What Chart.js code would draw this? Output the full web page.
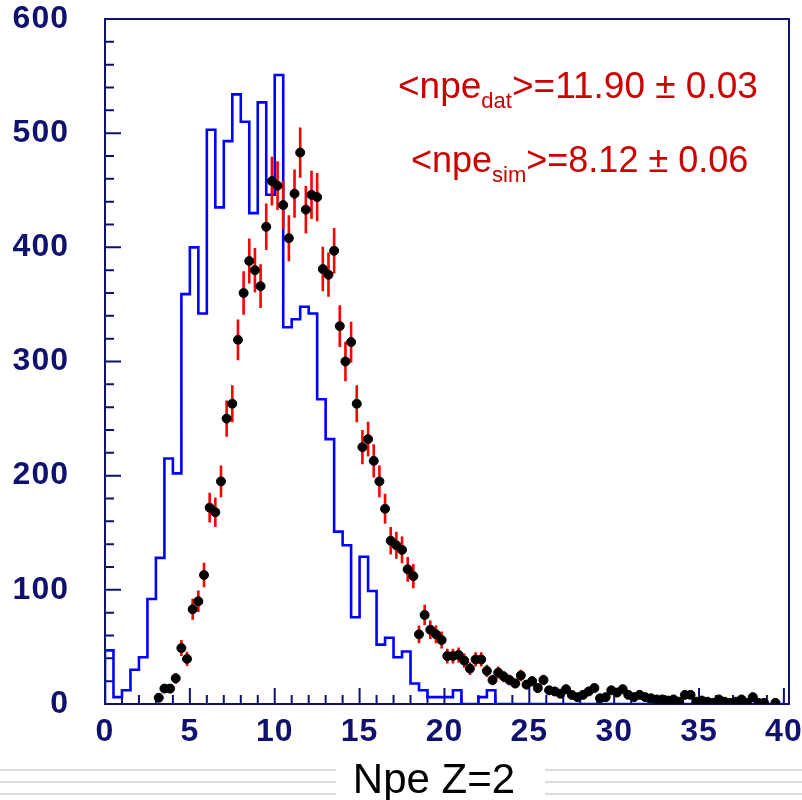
<!DOCTYPE html>
<html>
<head>
<title>Npe Z=2</title>
<script src="https://cdn.jsdelivr.net/npm/chart.js"></script>
<style>
html, body { margin: 0; background: #ffffff; }
</style>
</head>
<body>
<canvas id="npeChart" width="802" height="800"></canvas>
<script>
// measured data: counts in bins of 1/3 npe, from 0 to 40
const dataBinWidth = 1 / 3;
const dataCounts = [
	0, 0, 0, 0, 0, 0, 0, 0, 0, 5.5,
	13.5, 13.5, 22.5, 49, 39.5, 83, 90, 113, 172, 168,
	195, 250, 263, 319, 360, 388, 380, 366, 418, 458,
	454, 437, 408, 447, 483, 433, 446, 444, 381, 376,
	397, 331, 300, 317, 263, 225, 232, 213, 195, 171,
	143, 139, 135, 118, 112, 61, 78, 65, 61, 56,
	42, 42, 43, 38, 31, 39, 39, 29, 21, 27.5,
	24, 21, 18, 25, 17, 20, 14, 21, 12, 11,
	9, 13, 8, 6, 8, 11, 14, 5, 6, 12,
	10, 13, 8, 6, 8, 6, 5, 4, 4, 3,
	4, 2, 8, 8, 2, 3, 2, 1, 4, 2,
	1, 2, 4, 1, 6, 1, 1, 0, 1, 0
];

// simulation: bins of 0.5 npe, from 0 to 40
const simBinWidth = 0.5;
const simCounts = [
	47, 6, 12, 30, 41, 92, 128, 215, 202, 359,
	400, 342, 503, 435, 493, 534, 510, 430, 527, 446,
	551, 330, 337, 348, 342, 267, 232, 151, 139, 76,
	129, 99, 52, 58, 41, 46, 18, 12, 6, 6,
	6, 12, 0, 0, 6, 12, 0, 0, 0, 0,
	0, 0, 0, 0, 0, 0, 0, 0, 0, 0,
	0, 0, 0, 0, 0, 0, 0, 0, 0, 0,
	0, 0, 0, 0, 0, 0, 0, 0, 0, 0
];

const xMin = 0, xMax = 40.3;
const yMin = 0, yMax = 600;
const xLabelStep = 5, xMinorStep = 1;
const yLabelStep = 100, yMinorStep = 20;

const xTitle = 'Npe Z=2';
const meanDat = { sub: 'dat', value: '=11.90 ± 0.03' };
const meanSim = { sub: 'sim', value: '=8.12 ± 0.06' };

const axisColor = '#10106e';
const textRed = '#cc0000';
const sansFont = '"Liberation Sans", Arial, sans-serif';

// points at bin centres, error = sqrt(N)
const dataPoints = dataCounts.map((c, i) => ({
	x: (i + 0.5) * dataBinWidth,
	y: c > 0 ? c : null,
	err: Math.sqrt(c)
}));

// step outline for the simulated histogram
const simPoints = [{ x: 0, y: 0 }];
simCounts.forEach((c, i) => simPoints.push({ x: i * simBinWidth, y: c }));
simPoints.push({ x: simCounts.length * simBinWidth, y: simCounts[simCounts.length - 1] });

// frame with inward ticks, drawn under the datasets
const framePlugin = {
	id: 'frame',
	beforeDatasetsDraw(chart) {
		const { ctx, chartArea: a, scales: { x, y } } = chart;
		ctx.save();
		ctx.strokeStyle = axisColor;
		ctx.lineWidth = 2;
		ctx.strokeRect(a.left, a.top, a.right - a.left, a.bottom - a.top);
		ctx.beginPath();
		for (let v = 0; v <= 40; v += xMinorStep) {
			const px = x.getPixelForValue(v);
			const len = v % xLabelStep === 0 ? 16 : 9;
			ctx.moveTo(px, a.bottom);
			ctx.lineTo(px, a.bottom - len);
		}
		for (let v = yMin; v <= yMax; v += yMinorStep) {
			const py = y.getPixelForValue(v);
			const len = v % yLabelStep === 0 ? 16 : 9;
			ctx.moveTo(a.left, py);
			ctx.lineTo(a.left + len, py);
		}
		ctx.stroke();
		ctx.restore();
	}
};

// red vertical error bars under the black markers
const errorBarPlugin = {
	id: 'errorBars',
	beforeDatasetDraw(chart, args) {
		if (args.index !== 0) return;
		const { ctx, chartArea: a, scales: { x, y } } = chart;
		ctx.save();
		ctx.beginPath();
		ctx.rect(a.left, a.top, a.right - a.left, a.bottom - a.top);
		ctx.clip();
		ctx.strokeStyle = '#ff0000';
		ctx.lineWidth = 2.6;
		ctx.beginPath();
		dataPoints.forEach(p => {
			if (p.y === null) return;
			const px = x.getPixelForValue(p.x);
			ctx.moveTo(px, y.getPixelForValue(p.y - p.err));
			ctx.lineTo(px, y.getPixelForValue(p.y + p.err));
		});
		ctx.stroke();
		ctx.restore();
	}
};

// "<npe_sub>=value" with the subscript set smaller and lower
function drawMean(ctx, m, x0, base, size) {
	let cx = x0;
	ctx.font = size + 'px ' + sansFont;
	ctx.fillText('<npe', cx, base);
	cx += ctx.measureText('<npe').width;
	ctx.font = Math.round(size * 0.6) + 'px ' + sansFont;
	ctx.fillText(m.sub, cx, base + 10);
	cx += ctx.measureText(m.sub).width;
	ctx.font = size + 'px ' + sansFont;
	ctx.fillText('>' + m.value, cx, base);
}

// axis title, the slide rules beside it and the two mean values
const textPlugin = {
	id: 'texts',
	beforeDraw(chart) {
		const ctx = chart.ctx;
		ctx.save();
		ctx.strokeStyle = '#dcdcdc';
		ctx.lineWidth = 2;
		ctx.beginPath();
		[770, 782, 794].forEach(ly => {
			ctx.moveTo(0, ly); ctx.lineTo(336, ly);
			ctx.moveTo(545, ly); ctx.lineTo(802, ly);
		});
		ctx.stroke();
		ctx.restore();
		ctx.letterSpacing = '1px';
	},
	afterDraw(chart) {
		const ctx = chart.ctx;
		ctx.save();
		ctx.letterSpacing = '0px';
		ctx.fillStyle = '#000000';
		ctx.font = '42px ' + sansFont;
		ctx.textAlign = 'center';
		ctx.textBaseline = 'alphabetic';
		ctx.fillText(xTitle, 434, 793);

		ctx.fillStyle = textRed;
		ctx.textAlign = 'left';
		drawMean(ctx, meanDat, 398, 98, 37);
		drawMean(ctx, meanSim, 411, 172, 36);
		ctx.restore();
	}
};

const tickFont = { family: sansFont, size: 32, weight: 'bold' };

new Chart(document.getElementById('npeChart'), {
	type: 'scatter',
	data: {
		datasets: [{
			label: 'data',
			data: dataPoints,
			backgroundColor: '#000000',
			borderColor: '#000000',
			pointRadius: 4.5,
			pointHoverRadius: 4.5
		}, {
			label: 'sim',
			type: 'line',
			data: simPoints,
			stepped: 'before',
			borderColor: '#0000ff',
			borderWidth: 2.6,
			pointRadius: 0,
			fill: false
		}]
	},
	options: {
		responsive: false,
		animation: false,
		devicePixelRatio: 1,
		layout: { padding: { top: 19, right: 13, left: 0, bottom: 0 } },
		plugins: { legend: { display: false }, tooltip: { enabled: false } },
		scales: {
			x: {
				type: 'linear',
				min: xMin,
				max: xMax,
				grid: { display: false, drawTicks: false },
				border: { display: false },
				ticks: {
					stepSize: xLabelStep,
					includeBounds: false,
					autoSkip: false,
					maxRotation: 0,
					color: axisColor,
					font: tickFont,
					padding: 9
				},
				afterFit(scale) {
					scale.height = 96;
					scale.paddingLeft = 0;
					scale.paddingRight = 0;
				}
			},
			y: {
				min: yMin,
				max: yMax,
				grid: { display: false, drawTicks: false },
				border: { display: false },
				ticks: {
					stepSize: yLabelStep,
					color: axisColor,
					font: tickFont,
					padding: 36
				},
				afterFit(scale) {
					scale.width = 105;
					scale.paddingTop = 0;
					scale.paddingBottom = 0;
				}
			}
		}
	},
	plugins: [framePlugin, errorBarPlugin, textPlugin]
});
</script>
</body>
</html>
